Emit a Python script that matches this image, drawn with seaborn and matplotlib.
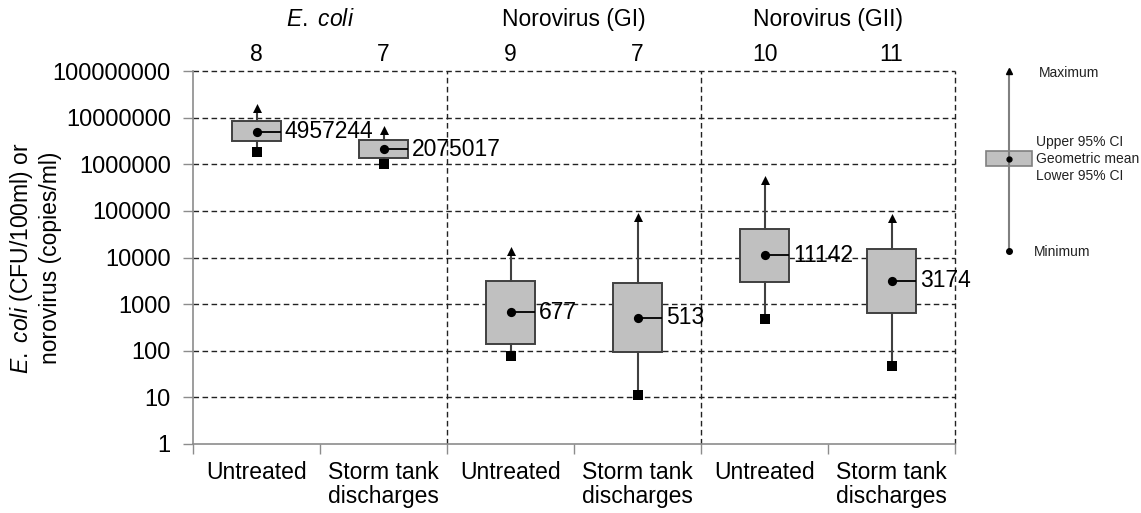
import numpy as np
import matplotlib
matplotlib.use("Agg")
import matplotlib.pyplot as plt
from matplotlib.ticker import FuncFormatter, NullLocator
from matplotlib.patches import Rectangle
from matplotlib.lines import Line2D
import seaborn as sns

# Sample categories and per-category summary statistics
categories = ["Untreated", "Storm tank\ndischarges"] * 3
groups = ["$\\mathit{E.\\ coli}$", "Norovirus (GI)", "Norovirus (GII)"]
n_samples = [8, 7, 9, 7, 10, 11]
geo_mean = [4957244, 2075017, 677, 513, 11142, 3174]
upper_ci = [8.5e6, 3.3e6, 3200, 2800, 41000, 15000]
lower_ci = [3.1e6, 1.35e6, 138, 94, 2960, 650]
maximum = [1.6e7, 5.4e6, 1.35e4, 7.4e4, 4.6e5, 7.2e4]
minimum = [1.86e6, 1.0e6, 78, 11, 480, 46]
ytick_values = [1, 10, 100, 1000, 10000, 100000, 1000000, 10000000, 100000000]

sns.set_style("white")
plt.rcParams["font.family"] = ["Liberation Sans", "DejaVu Sans"]
plt.rcParams["mathtext.fontset"] = "custom"
plt.rcParams["mathtext.rm"] = "Liberation Sans"
plt.rcParams["mathtext.it"] = "Liberation Sans:italic"
plt.rcParams["text.color"] = "black"

FS = 16.5
fig = plt.figure(figsize=(11.41, 5.13), dpi=100)
ax = fig.add_axes([193 / 1141, 1 - 444 / 513, (955 - 193) / 1141, (444 - 71) / 513])

pos = np.arange(len(categories))
half_w = 0.193

ax.set_yscale("log")
ax.set_ylim(1, 1e8)
ax.set_xlim(-0.5, 5.5)

# dashed grid and group separators
grid_kw = dict(color="#222222", lw=1.0, ls=(0, (4, 2.5)), zorder=0.5, clip_on=False)
for v in ytick_values[1:]:
    ax.axhline(v, **grid_kw)
for xb in [1.5, 3.5, 5.5]:
    ax.axvline(xb, **grid_kw)

# boxes: lower/upper 95% CI, whiskers to min/max
stats = [dict(med=m, q1=lo, q3=hi, whislo=mn, whishi=mx, fliers=[])
         for m, lo, hi, mn, mx in zip(geo_mean, lower_ci, upper_ci, minimum, maximum)]
ax.bxp(stats, positions=pos, widths=2 * half_w, patch_artist=True,
       showcaps=False, showfliers=False, manage_ticks=False,
       boxprops=dict(facecolor="#c0c0c0", edgecolor="#404040", lw=1.4),
       whiskerprops=dict(color="#404040", lw=1.5),
       medianprops=dict(lw=0, alpha=0), zorder=2)

# connector from mean to box edge
ax.hlines(geo_mean, pos, pos + half_w, color="black", lw=1.3, zorder=3)

sns.scatterplot(x=pos, y=maximum, marker="^", s=42, color="black",
                edgecolor="black", linewidth=0, ax=ax, zorder=4, legend=False)
sns.scatterplot(x=pos, y=minimum, marker="s", s=42, color="black",
                edgecolor="black", linewidth=0, ax=ax, zorder=4, legend=False)
sns.scatterplot(x=pos, y=geo_mean, marker="o", s=44, color="black",
                edgecolor="black", linewidth=0, ax=ax, zorder=4, legend=False)

for x, m in zip(pos, geo_mean):
    ax.text(x + half_w + 0.03, m, f"{m}", va="center", ha="left",
            fontsize=FS, color="black", zorder=5)

# axes styling
for s in ["top", "right"]:
    ax.spines[s].set_visible(False)
for s in ["left", "bottom"]:
    ax.spines[s].set_color("#8c8c8c")
    ax.spines[s].set_linewidth(1.2)

ax.set_yticks(ytick_values)
ax.yaxis.set_minor_locator(NullLocator())
ax.yaxis.set_major_formatter(FuncFormatter(lambda v, _: f"{v:.0f}"))
ax.tick_params(axis="y", which="major", length=7, width=1.0, color="#8c8c8c",
               pad=9, labelsize=17, labelcolor="black", left=True)

ax.set_xticks(pos)
ax.set_xticklabels(categories, fontsize=FS, linespacing=1.05)
ax.set_xticks(np.arange(-0.5, 6.0, 1.0), minor=True)
ax.tick_params(axis="x", which="major", length=0, pad=12, labelcolor="black")
ax.tick_params(axis="x", which="minor", length=7, width=1.0, color="#8c8c8c",
               bottom=True)

# sample counts and group titles above the plot
trans = ax.get_xaxis_transform()
for x, n in zip(pos, n_samples):
    ax.text(x, 1.043, str(n), transform=trans, ha="center", va="center",
            fontsize=FS)
for g, title in enumerate(groups):
    ax.text(2 * g + 0.5, 1.137, title, transform=trans, ha="center",
            va="center", fontsize=FS)

fig.text(35 / 1141, 0.497,
         "$\\mathit{E.\\ coli}$ (CFU/100ml) or\nnorovirus (copies/ml)",
         rotation=90, ha="center", va="center", fontsize=FS, linespacing=1.2)

# key explaining the box elements
key = fig.add_axes([0, 0, 1, 1], zorder=5)
key.set_xlim(0, 1141)
key.set_ylim(513, 0)
key.axis("off")
key.patch.set_alpha(0)
key.add_line(Line2D([1009, 1009], [71, 251], color="#808080", lw=1.5))
key.add_patch(Rectangle((986, 151), 46, 15, facecolor="#c0c0c0",
                        edgecolor="#808080", lw=1.2))
key.plot([1009], [71], marker="^", ms=4, color="black")
key.plot([1009], [158.5], marker="o", ms=3.5, color="black")
key.plot([1009], [251], marker="o", ms=4, color="black")
kfs = 10
key.text(1039, 73, "Maximum", fontsize=kfs, va="center", ha="left", color="#222222")
key.text(1036, 142, "Upper 95% CI", fontsize=kfs, va="center", ha="left", color="#222222")
key.text(1036, 159, "Geometric mean", fontsize=kfs, va="center", ha="left", color="#222222")
key.text(1036, 176, "Lower 95% CI", fontsize=kfs, va="center", ha="left", color="#222222")
key.text(1034, 252, "Minimum", fontsize=kfs, va="center", ha="left", color="#222222")

fig.savefig("out.png", dpi=100)
